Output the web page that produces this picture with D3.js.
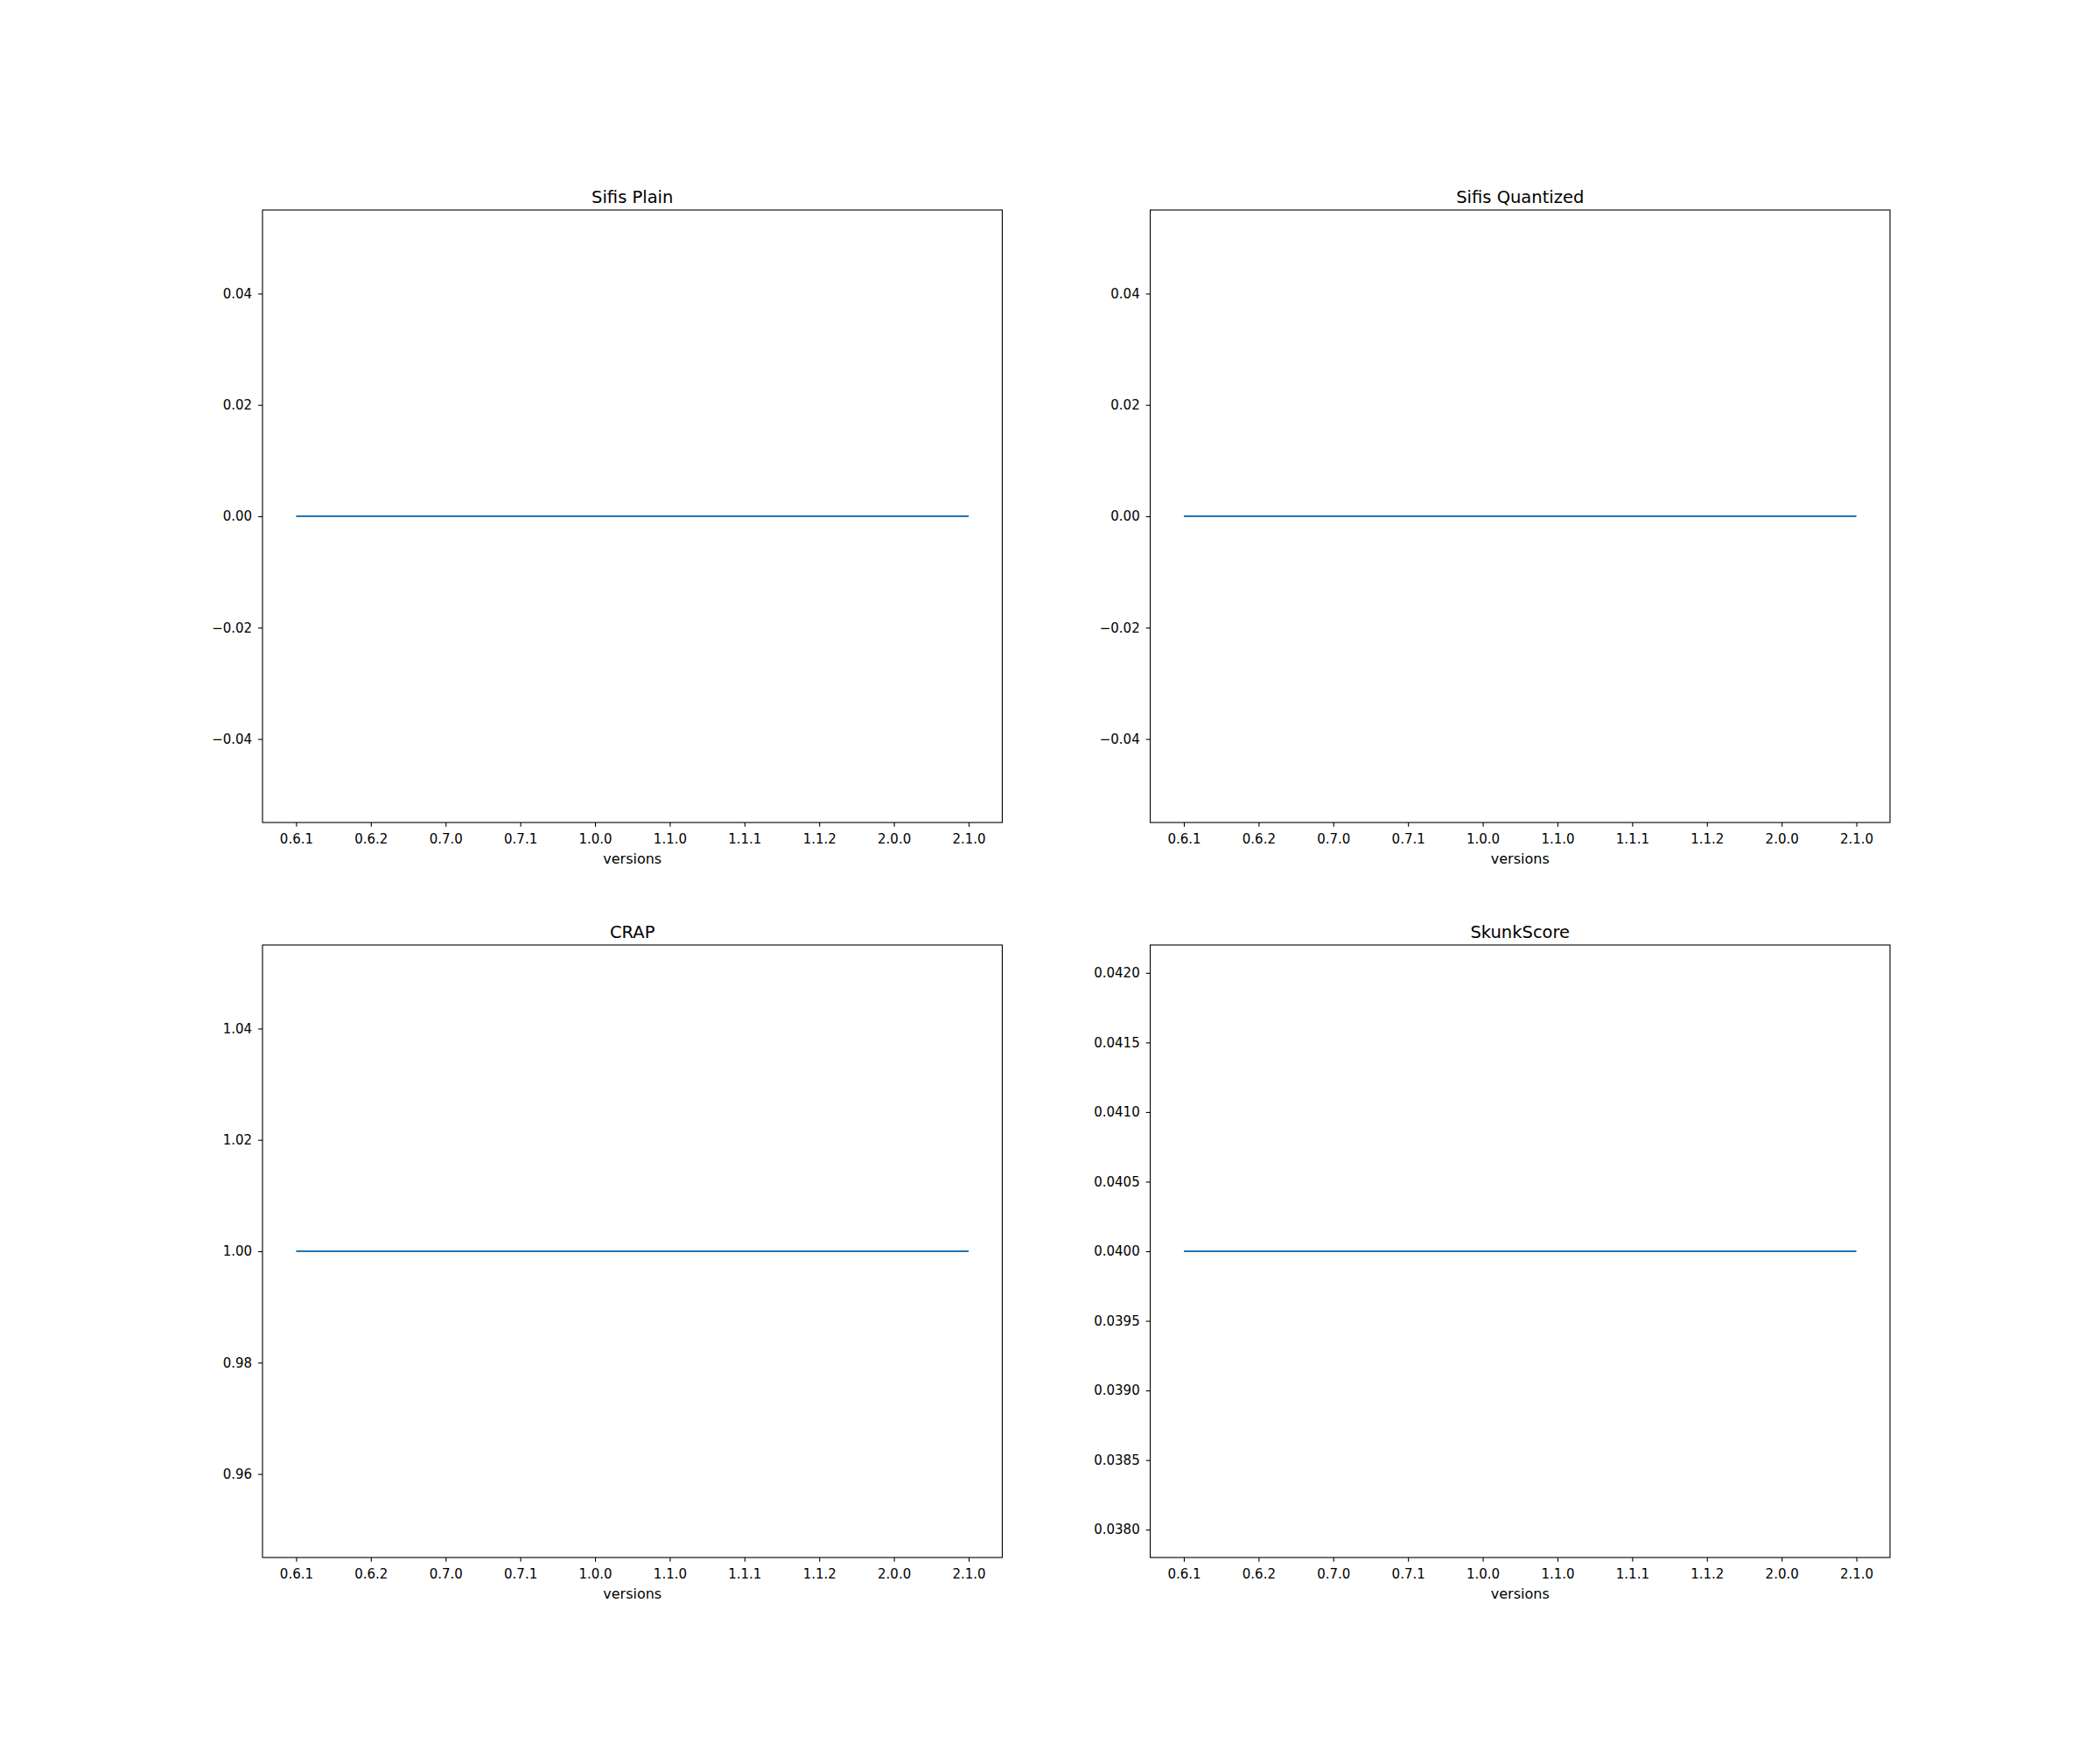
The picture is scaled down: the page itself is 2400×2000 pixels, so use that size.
<!DOCTYPE html>
<html><head><meta charset="utf-8">
<script src="https://cdn.jsdelivr.net/npm/d3@7"></script>
<style>body{margin:0;background:#fff}svg{display:block}</style>
</head><body>
<script>
const versions = ["0.6.1","0.6.2","0.7.0","0.7.1","1.0.0","1.1.0","1.1.1","1.1.2","2.0.0","2.1.0"];
const titles = ["Sifis Plain","Sifis Quantized","CRAP","SkunkScore"];
const sifisPlain = [0,0,0,0,0,0,0,0,0,0];
const sifisQuantized = [0,0,0,0,0,0,0,0,0,0];
const crap = [1,1,1,1,1,1,1,1,1,1];
const skunkScore = [0.04,0.04,0.04,0.04,0.04,0.04,0.04,0.04,0.04,0.04];
const yDomains = [[-0.055,0.055],[-0.055,0.055],[0.945,1.055],[0.0378,0.0422]];
const yTicks = [[-0.04,-0.02,0,0.02,0.04],[-0.04,-0.02,0,0.02,0.04],[0.96,0.98,1.00,1.02,1.04],
  [0.0380,0.0385,0.0390,0.0395,0.0400,0.0405,0.0410,0.0415,0.0420]];
const yFormats = [".2f",".2f",".2f",".4f"];
const series = [sifisPlain, sifisQuantized, crap, skunkScore];

const W=2400,H=2000;
const svg=d3.select("body").append("svg").attr("width",W).attr("height",H);
const figLeft=300, figRight=2160, figTop=240, figBottom=1780;
const aw=(figRight-figLeft)/2.2, ah=(figBottom-figTop)/2.2;
const font="DejaVu Sans";
const tickFs=15, titleFs=19.5, labelFs=16;
series.forEach((vals,i)=>{
  const r=Math.floor(i/2), c=i%2;
  const x0=figLeft+c*aw*1.2, y0=figTop+r*ah*1.2;
  const g=svg.append("g").attr("transform",`translate(${x0},${y0})`);
  const x=d3.scaleLinear().domain([-0.45,9.45]).range([0,aw]);
  const y=d3.scaleLinear().domain(yDomains[i]).range([ah,0]);
  g.append("path").datum(vals)
    .attr("d",d3.line().x((d,j)=>x(j)).y(d=>y(d)))
    .attr("fill","none").attr("stroke","#1f77b4").attr("stroke-width",2.08);
  const xa=g.append("g").attr("transform",`translate(0,${ah})`)
    .call(d3.axisBottom(x).tickValues(d3.range(versions.length)).tickFormat(j=>versions[j]).tickSize(4.86).tickPadding(4.86));
  const ya=g.append("g")
    .call(d3.axisLeft(y).tickValues(yTicks[i]).tickFormat(d3.format(yFormats[i])).tickSize(4.86).tickPadding(7));
  [xa,ya].forEach(a=>{
    a.select(".domain").remove();
    a.selectAll("line").attr("stroke","#000").attr("stroke-width",1.1);
    a.selectAll("text").attr("font-family",font).attr("font-size",tickFs+"px").attr("fill","#000");
  });
  xa.selectAll("text").attr("y",24).attr("dy",0);
  g.append("rect").attr("width",aw).attr("height",ah).attr("fill","none")
    .attr("stroke","#000").attr("stroke-width",1.1);
  g.append("text").attr("x",aw/2).attr("y",-8).attr("text-anchor","middle")
    .attr("font-family",font).attr("font-size",titleFs+"px").text(titles[i]);
  g.append("text").attr("x",aw/2).attr("y",ah+47).attr("text-anchor","middle")
    .attr("font-family",font).attr("font-size",labelFs+"px").text("versions");
});
</script>
</body></html>
